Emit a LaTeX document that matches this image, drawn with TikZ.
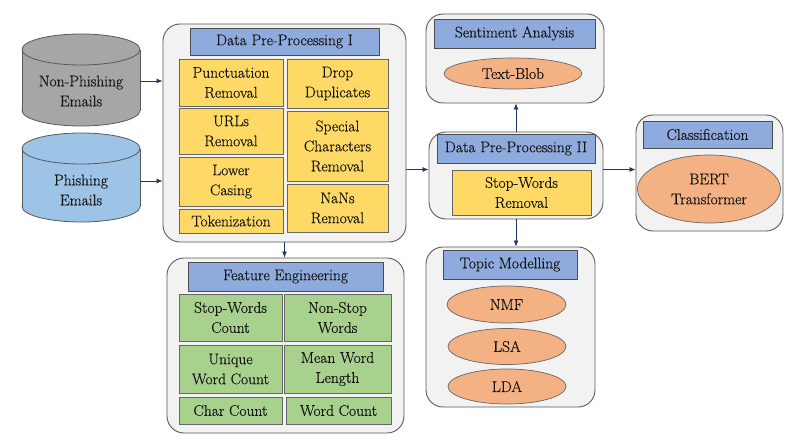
\documentclass[tikz,border=0pt]{standalone}
\usepackage{fontspec}
\setmainfont{Latin Modern Roman}[UprightFeatures={FakeBold=0.35}]
\usetikzlibrary{arrows.meta,shapes.geometric}

\definecolor{cylgrey}{HTML}{A6A6A6}
\definecolor{cylblue}{HTML}{9DC3E6}
\definecolor{panelgrey}{HTML}{F2F2F2}
\definecolor{headblue}{HTML}{8FAADC}
\definecolor{boxyellow}{HTML}{FFD966}
\definecolor{boxgreen}{HTML}{A9D18E}
\definecolor{ovalorange}{HTML}{F4B183}
\definecolor{arrowblue}{HTML}{1F3864}

\begin{document}
\begin{tikzpicture}[x=1pt,y=-1pt,
    every node/.style={font=\fontsize{15.5}{20}\selectfont, text=black!92, align=center, inner sep=0pt},
    panel/.style={draw=black!65, fill=panelgrey, rounded corners=17pt, line width=0.9pt},
    head/.style={draw=black!70, fill=headblue, line width=0.8pt},
    ybox/.style={draw=black!60, fill=boxyellow, line width=0.7pt},
    gbox/.style={draw=black!60, fill=boxgreen, line width=0.7pt},
    oval/.style={ellipse, draw=black!60, fill=ovalorange, line width=0.7pt},
    cyl/.style={draw=black!65, line width=0.8pt},
    arr/.style={draw=arrowblue, line width=0.8pt, -{Latex[length=6pt,width=5pt]}}]
    \useasboundingbox[fill=white] (0,0) rectangle (797,447);

    % Non-Phishing database
    \draw[cyl, fill=cylgrey] (81,110.5) ellipse [x radius=59, y radius=15.5];
    \fill[cylgrey] (22,49.5) rectangle (140,110.5);
    \draw[cyl] (22,49.5) -- (22,110.5) (140,49.5) -- (140,110.5);
    \draw[cyl, fill=cylgrey] (81,49.5) ellipse [x radius=59, y radius=15.5];
    \node[minimum width=118pt, minimum height=92pt] (nonph) at (81,81) {};
    \node (nonphtxt) at (81,91) {Non-Phishing\\Emails};

    % Phishing database
    \draw[cyl, fill=cylblue] (81,206.5) ellipse [x radius=59, y radius=15.5];
    \fill[cylblue] (22,148.5) rectangle (140,206.5);
    \draw[cyl] (22,148.5) -- (22,206.5) (140,148.5) -- (140,206.5);
    \draw[cyl, fill=cylblue] (81,148.5) ellipse [x radius=59, y radius=15.5];
    \node[minimum width=118pt, minimum height=89pt] (ph) at (81,181) {};
    \node (phtxt) at (81,190) {Phishing\\Emails};

    % Data Pre-Processing I
    \node[panel, minimum width=243pt, minimum height=218pt] (dpp1) at (284.5,133) {};
    \node[head, minimum width=189pt, minimum height=27pt] (h1) at (284.5,41.5) {Data Pre-Processing I};
    \node[ybox, minimum width=104pt, minimum height=47pt] (punct) at (231,82.5) {Punctuation\\Removal};
    \node[ybox, minimum width=104pt, minimum height=46pt] (urls) at (231,131) {URLs\\Removal};
    \node[ybox, minimum width=104pt, minimum height=49pt] (lower) at (231,181.5) {Lower\\Casing};
    \node[ybox, minimum width=104pt, minimum height=24pt] (token) at (231,221) {Tokenization};
    \node[ybox, minimum width=101pt, minimum height=49pt] (drop) at (337.5,83.5) {Drop\\Duplicates};
    \node[ybox, minimum width=101pt, minimum height=70pt] (special) at (337.5,146) {Special\\Characters\\Removal};
    \node[ybox, minimum width=101pt, minimum height=48pt] (nans) at (337.5,208) {NaNs\\Removal};

    % Feature Engineering
    \node[panel, minimum width=237pt, minimum height=175pt] (fe) at (285.5,345.5) {};
    \node[head, minimum width=195pt, minimum height=29pt] (hfe) at (285.5,276.5) {Feature Engineering};
    \node[gbox, minimum width=103pt, minimum height=47pt] (swc) at (230.5,317.5) {Stop-Words\\Count};
    \node[gbox, minimum width=107pt, minimum height=47pt] (nsw) at (337.5,317.5) {Non-Stop\\Words};
    \node[gbox, minimum width=103pt, minimum height=48pt] (uwc) at (230.5,369) {Unique\\Word Count};
    \node[gbox, minimum width=107pt, minimum height=48pt] (mwl) at (337.5,369) {Mean Word\\Length};
    \node[gbox, minimum width=103pt, minimum height=27pt] (cc) at (230.5,410.5) {Char Count};
    \node[gbox, minimum width=105pt, minimum height=27pt] (wc) at (338.5,410.5) {Word Count};

    % Sentiment Analysis
    \node[panel, minimum width=178pt, minimum height=89pt] (sent) at (515,58.5) {};
    \node[head, minimum width=161pt, minimum height=29pt] (hs) at (514.5,33.5) {Sentiment Analysis};
    \node[oval, minimum width=138pt, minimum height=31pt] (tb) at (513,73.5) {Text-Blob};

    % Data Pre-Processing II
    \node[panel, minimum width=174pt, minimum height=87pt] (dpp2) at (516,175.5) {};
    \node[head, minimum width=158pt, minimum height=29pt] (h2) at (516,148.5) {Data Pre-Processing II};
    \node[ybox, minimum width=139pt, minimum height=45pt] (swrem) at (521.5,192.5) {Stop-Words\\Removal};

    % Topic Modelling
    \node[panel, minimum width=169pt, minimum height=160pt] (topic) at (510.5,327) {};
    \node[head, minimum width=134pt, minimum height=29pt] (ht) at (510,264.5) {Topic Modelling};
    \node[oval, minimum width=119pt, minimum height=37pt] (nmf) at (506.5,304.5) {NMF};
    \node[oval, minimum width=118pt, minimum height=36pt] (lsa) at (507,346.5) {LSA};
    \node[oval, minimum width=118pt, minimum height=35pt] (lda) at (507,386.5) {LDA};

    % Classification
    \node[panel, minimum width=147pt, minimum height=116pt] (cls) at (709.5,173) {};
    \node[head, minimum width=129pt, minimum height=27pt] (hc) at (707.5,134.5) {Classification};
    \node[oval, minimum width=143pt, minimum height=68pt] (bert) at (709,189) {BERT\\Transformer};

    % Connectors
    \draw[arr] (nonph.east) -- (nonph.east -| dpp1.west);
    \draw[arr] (ph.east) -- (ph.east -| dpp1.west);
    \draw[arr] (dpp1.south) -- (dpp1.south |- fe.north);
    \draw[arr] ([yshift=6pt]dpp2.west -| dpp1.east) -- ([yshift=6pt]dpp2.west);
    \draw[arr] (dpp2.north) -- (dpp2.north |- sent.south);
    \draw[arr] (dpp2.south) -- (dpp2.south |- topic.north);
    \draw[arr] ([yshift=6pt]dpp2.east) -- ([yshift=6pt]dpp2.east -| cls.west);
\end{tikzpicture}
\end{document}
